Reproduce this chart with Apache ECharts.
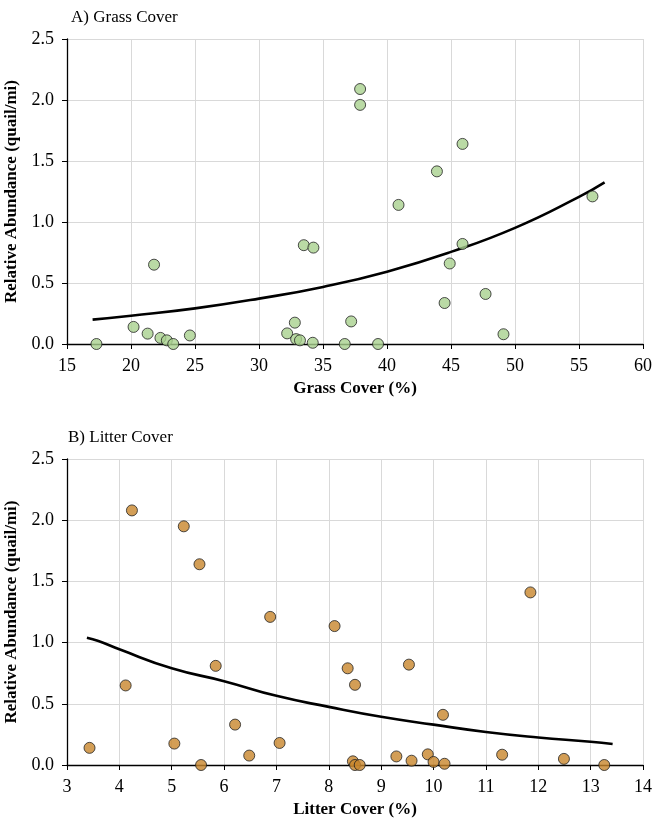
<!DOCTYPE html>
<html><head><meta charset="utf-8">
<script src="https://cdn.jsdelivr.net/npm/echarts@6/dist/echarts.min.js"></script>
<style>html,body{margin:0;padding:0;background:#fff}#c{width:655px;height:821px}</style>
</head><body><div id="c"></div>
<script>
// Panel A: grass cover (%) vs relative abundance (quail/mi)
const grassX = [17.3,20.2,21.3,21.8,22.3,22.8,23.3,24.6,32.2,32.8,32.9,33.2,33.5,34.25,34.2,36.7,37.2,39.3,40.9,44.5,44.9,45.9,47.7,49.1,56.05,37.9,37.9,45.9,43.9];
const grassY = [0.0,0.14,0.085,0.65,0.05,0.03,0.0,0.07,0.087,0.175,0.04,0.03,0.81,0.79,0.01,0.0,0.185,0.0,1.14,0.336,0.66,0.82,0.41,0.08,1.21,2.09,1.96,1.64,1.415];
const grassTrendX = [17,20,25,30,35,40,45,50,55,57];
const grassTrendY = [0.20,0.232,0.292,0.372,0.468,0.593,0.755,0.952,1.206,1.325];
// Panel B: litter cover (%) vs relative abundance
const litterX = [4.24,5.23,5.53,6.88,11.85,3.43,4.12,5.05,5.56,5.84,6.21,6.48,7.06,8.11,8.36,8.50,9.53,10.18,8.46,8.50,8.59,9.29,9.58,9.89,10.0,10.21,11.31,12.49,13.26];
const litterY = [2.08,1.95,1.64,1.21,1.41,0.14,0.65,0.175,0.0,0.81,0.33,0.077,0.18,1.135,0.79,0.655,0.82,0.41,0.03,0.0,0.0,0.07,0.035,0.087,0.025,0.01,0.084,0.05,0.0];
const litterTrendX = [3.38,3.6,4,5,6,7,8,9,10,11,12,13,13.42];
const litterTrendY = [1.04,1.013,0.945,0.79,0.685,0.565,0.475,0.394,0.33,0.27,0.225,0.19,0.171];
const yTicks = [0,0.5,1.0,1.5,2.0,2.5];

const FONT = '"Liberation Serif", "Times New Roman", serif';
const zip = (a,b) => a.map((v,i)=>[v,b[i]]);
const chart = echarts.init(document.getElementById('c'), null, {renderer:'canvas'});

function xAx(gi, min, max, interval, name){
  return {gridIndex:gi, type:'value', min, max, interval, name, nameLocation:'middle', nameGap:36,
    nameTextStyle:{fontFamily:FONT, fontSize:17, fontWeight:'bold', color:'#000'},
    axisLine:{show:true, onZero:false, lineStyle:{color:'#000', width:1.3}},
    axisTick:{show:true, length:5, lineStyle:{color:'#000'}},
    axisLabel:{fontFamily:FONT, fontSize:18, color:'#000', margin:13},
    splitLine:{show:true, lineStyle:{color:'#d9d9d9', width:1}}};
}
function yAx(gi, name){
  return {gridIndex:gi, type:'value', min:0, max:2.5, interval:0.5, name, nameLocation:'middle', nameGap:41,
    nameTextStyle:{fontFamily:FONT, fontSize:17, fontWeight:'bold', color:'#000'},
    axisLine:{show:true, lineStyle:{color:'#000', width:1.3}},
    axisTick:{show:true, length:5, lineStyle:{color:'#000'}},
    axisLabel:{fontFamily:FONT, fontSize:18, color:'#000', margin:13, formatter:v=>v.toFixed(1)},
    splitLine:{show:true, lineStyle:{color:'#d9d9d9', width:1}}};
}

chart.setOption({
  animation:false,
  backgroundColor:'#fff',
  title:[
    {text:'A) Grass Cover', left:66, top:4, textStyle:{fontFamily:FONT, fontSize:17, fontWeight:'normal', color:'#000'}},
    {text:'B) Litter Cover', left:63, top:424, textStyle:{fontFamily:FONT, fontSize:17, fontWeight:'normal', color:'#000'}}
  ],
  grid:[
    {left:67, top:39, width:576, height:305, outerBoundsMode:'none', containLabel:false},
    {left:67, top:459, width:576, height:306, outerBoundsMode:'none', containLabel:false}
  ],
  xAxis:[xAx(0,15,60,5,'Grass Cover (%)'), xAx(1,3,14,1,'Litter Cover (%)')],
  yAxis:[yAx(0,'Relative Abundance (quail/mi)'), yAx(1,'Relative Abundance (quail/mi)')],
  series:[
    {type:'line', xAxisIndex:0, yAxisIndex:0, data:zip(grassTrendX,grassTrendY), smooth:true, showSymbol:false, lineStyle:{color:'#000', width:2.6}, z:3},
    {type:'scatter', xAxisIndex:0, yAxisIndex:0, data:zip(grassX,grassY), symbolSize:11, itemStyle:{color:'#a9d18e', borderColor:'#222', borderWidth:1}, z:4},
    {type:'line', xAxisIndex:1, yAxisIndex:1, data:zip(litterTrendX,litterTrendY), smooth:true, showSymbol:false, lineStyle:{color:'#000', width:2.6}, z:3},
    {type:'scatter', xAxisIndex:1, yAxisIndex:1, data:zip(litterX,litterY), symbolSize:11, itemStyle:{color:'#c8862c', borderColor:'#222', borderWidth:1}, z:4}
  ]
});
</script></body></html>
